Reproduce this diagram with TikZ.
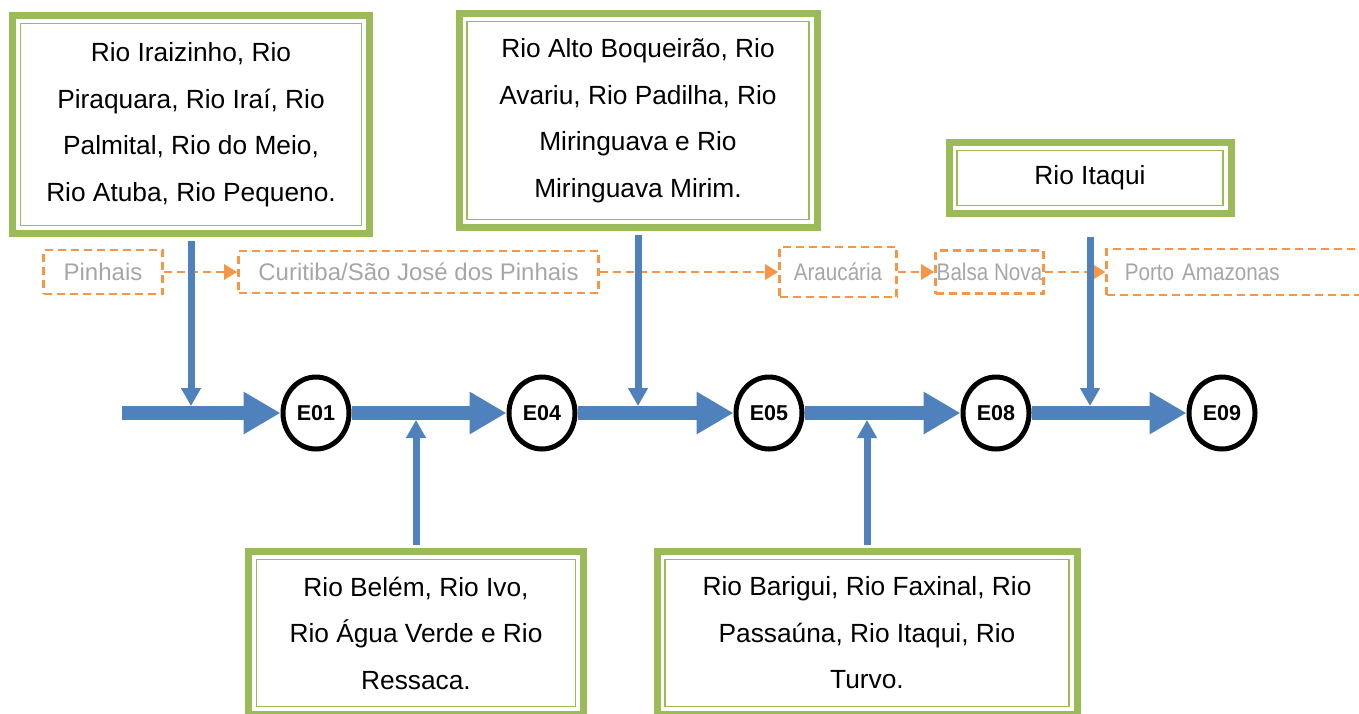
\documentclass[tikz,border=0pt]{standalone}
\usepackage{fontspec}
\setmainfont{Liberation Sans}
\newfontfamily\narrowfont[FakeStretch=0.86]{Liberation Sans}
\usetikzlibrary{arrows.meta,shapes.geometric}
\definecolor{rivgreen}{HTML}{9BBB59}
\definecolor{flowblue}{HTML}{4F81BD}
\definecolor{cityorange}{HTML}{F79646}
\definecolor{citygray}{HTML}{A6A6A6}
\begin{document}
\begin{tikzpicture}[x=1pt,y=-1pt,
   rio/.style={draw=rivgreen, line width=7pt, fill=white, inner sep=0pt, align=center,
      font=\fontsize{26.3}{46.5}\selectfont,
      path picture={\draw[rivgreen, line width=1.5pt]
         ([shift={(8pt,-8pt)}]path picture bounding box.north west) rectangle
         ([shift={(-8pt,8pt)}]path picture bounding box.south east);}},
   city/.style={draw=cityorange, line width=2.7pt, dash pattern=on 8pt off 5pt,
      text=citygray, inner sep=0pt, font=\fontsize{24}{28}\selectfont},
   narrowcity/.style={city, font=\narrowfont\fontsize{24}{28}\selectfont},
   cityto/.style={draw=cityorange, line width=2.7pt, dash pattern=on 8pt off 5pt,
      -{Triangle[length=13pt,width=15pt]}},
   station/.style={ellipse, draw, line width=5pt, fill=white, inner sep=0pt,
      minimum width=66pt, minimum height=72pt, font=\fontsize{21.5}{24}\bfseries\selectfont},
   flow/.style={draw=flowblue, line width=14pt, -{Triangle[length=37pt,width=40pt]}},
   feed/.style={draw=flowblue, line width=7pt, -{Triangle[length=18pt,width=19pt]}, shorten <=3.5pt}]
   \useasboundingbox (0,0) rectangle (1359,713);
   \clip (0,0) rectangle (1359,713);

   \node[city, minimum width=119pt, minimum height=44pt] (pin) at (103,272) {Pinhais};
   \node[city, minimum width=360pt, minimum height=42pt] (cur) at (418.5,272) {Curitiba/São José dos Pinhais};
   \node[narrowcity, minimum width=117pt, minimum height=50pt] (ara) at (838,272) {Araucária};
   \node[narrowcity, minimum width=108pt, minimum height=43pt] (bal) at (989.5,272) {Balsa Nova};
   \node[narrowcity, anchor=west, minimum height=46pt, text width=260pt, inner xsep=18pt, align=left]
      (por) at (1105.4,272) {Porto Amazonas};

   \draw[cityto] (pin) -- (cur);
   \draw[cityto] (cur) -- (ara);
   \draw[cityto] (ara) -- (bal);
   \draw[cityto] (bal) -- (por);

   \node[rio, minimum width=357pt, minimum height=218pt] (b1) at (191,124.5)
      {Rio Iraizinho, Rio\\Piraquara, Rio Iraí, Rio\\Palmital, Rio do Meio,\\Rio Atuba, Rio Pequeno.};
   \node[rio, minimum width=358pt, minimum height=214pt] (b2) at (638,120.5)
      {Rio Alto Boqueirão, Rio\\Avariu, Rio Padilha, Rio\\Miringuava e Rio\\Miringuava Mirim.};
   \node[rio, minimum width=282pt, minimum height=71pt] (b3) at (1090,178) {Rio Itaqui};
   \node[rio, minimum width=335pt, minimum height=163pt] (b4) at (416,633)
      {Rio Belém, Rio Ivo,\\Rio Água Verde e Rio\\Ressaca.};
   \node[rio, minimum width=420pt, minimum height=163pt] (b5) at (867,633)
      {Rio Barigui, Rio Faxinal, Rio\\Passaúna, Rio Itaqui, Rio\\Turvo.};

   \coordinate (src) at (122,413);
   \foreach \n/\x in {E01/316,E04/542,E05/769,E08/996,E09/1222}
   \node[station] (\n) at (\x,413) {\n};

   \draw[flow] (src) -- (E01);
   \foreach \a/\b in {E01/E04,E04/E05,E05/E08,E08/E09}
   \draw[flow] (\a) -- (\b);

   \coordinate (j1) at (191,406);
   \coordinate (j2) at (416,420);
   \coordinate (j3) at (638,406);
   \coordinate (j4) at (867,420);
   \coordinate (j5) at (1090,406);

   \draw[feed] (b1) -- (j1);
   \draw[feed] (b4) -- (j2);
   \draw[feed] (b2) -- (j3);
   \draw[feed] (b5) -- (j4);
   \draw[feed, shorten <=19.5pt] (b3) -- (j5);

\end{tikzpicture}
\end{document}
